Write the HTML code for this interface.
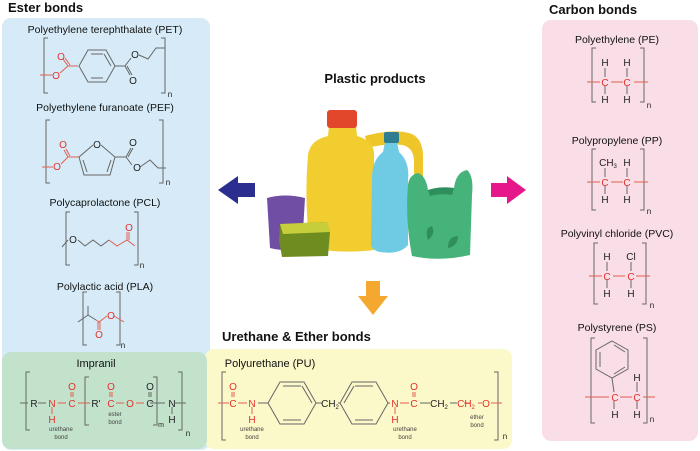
<!DOCTYPE html>
<html><head><meta charset="utf-8"><style>
html,body{margin:0;padding:0;background:#fff;}
svg{display:block;font-family:"Liberation Sans",Arial,sans-serif;}
.l{font-size:10.5px;fill:#111;text-anchor:middle}
.t{font-size:13px;font-weight:bold;fill:#111}
.b{stroke:#666;stroke-width:1;fill:none}
.r{stroke:#e0604f;stroke-width:1;fill:none}
.at{font-size:10px;text-anchor:middle;fill:#222}
.ar{font-size:10px;text-anchor:middle;fill:#e3302b}
.s{font-size:6px;text-anchor:middle;fill:#444}
.br{stroke:#666;stroke-width:1;fill:none}
</style></head><body>
<svg width="700" height="451" viewBox="0 0 700 451">
<!-- boxes -->
<rect x="2" y="18" width="208" height="432" rx="9" fill="#d6ebf7"/>
<rect x="205" y="349" width="307" height="100" rx="9" fill="#fbf8c9"/>
<rect x="2" y="352" width="205" height="97" rx="9" fill="#c3e2cc"/>
<rect x="542" y="20" width="156" height="421" rx="9" fill="#f9dde7"/>
<text class="t" x="8" y="12">Ester bonds</text>
<text class="t" x="549" y="14">Carbon bonds</text>
<text class="t" x="222" y="341">Urethane &amp; Ether bonds</text>
<text class="t" x="375" y="83" text-anchor="middle">Plastic products</text>

<!-- arrows -->
<polygon points="218,190 238,176 238,183 255,183 255,197 238,197 238,204" fill="#2b2e8f"/>
<polygon points="526,190 507,176 507,183 491,183 491,197 507,197 507,204" fill="#e5178a"/>
<polygon points="373,315 358,296 366,296 366,281 380,281 380,296 388,296" fill="#f5a830"/>

<!-- illustration -->
<!-- jug handle -->
<path d="M365,136 Q395,128 412,134 Q424,140 423,160 L423,198 L414,198 L414,160 Q413,147 402,145 Q385,143 368,148Z" fill="#efc62a"/>
<!-- jug body -->
<path d="M329,126 L356,126 L357,136 Q372,140 374,152 L374,250 Q340,254 310,248 Q304,200 308,155 Q310,140 328,136Z" fill="#f2cd30"/>
<rect x="327" y="110" width="30" height="18" rx="3" fill="#e2472c"/>
<!-- bottle -->
<path d="M385,142 L397,142 L399,152 Q410,162 408,180 L408,245 Q400,255 380,252 Q370,250 371,242 L372,178 Q372,160 383,152Z" fill="#6fcbe3"/>
<rect x="384" y="132" width="15" height="11" rx="2" fill="#2f7d90"/>
<!-- bag -->
<path d="M408,185 Q409,175 418,173 Q426,176 428,190 Q440,186 454,188 Q456,172 467,170 Q474,176 472,195 L470,255 Q440,262 412,256 Q405,220 408,185Z" fill="#46b37a"/>
<path d="M428,190 Q440,186 454,188 L452,195 Q440,193 430,196Z" fill="#2f8f5c"/>
<path d="M428,240 Q424,228 432,226 Q436,234 428,240Z M448,248 Q448,236 458,236 Q458,246 448,248Z" fill="#2f8f5c"/>
<!-- cup -->
<path d="M267,198 Q285,193 305,198 L302,248 Q285,252 270,248Z" fill="#6f4ea3"/>
<!-- box -->
<path d="M280,224 L327,222 L330,232 L328,256 L282,257 L279,240Z" fill="#6f8c20"/>
<path d="M280,224 L327,222 L330,232 L283,234Z" fill="#c6cf3b"/>

<!-- PET -->
<text class="l" x="105" y="33">Polyethylene terephthalate (PET)</text>
<path class="br" d="M48,38 H44 V93 H48 M161,38 H165 V93 H161"/>
<text class="at" x="170" y="97" style="font-size:8px">n</text>
<path class="r" d="M40,75 H52 M60,73 L68,66 H78 M68,66 L63,59 M70,65 L65,58"/>
<text class="ar" x="56" y="79">O</text><text class="ar" x="61" y="60">O</text>
<polygon class="b" points="79,66 88,50 106,50 115,66 106,82 88,82"/>
<path class="b" d="M91,54 H103 M91,78 H103 M111,66 L104,54" />
<path class="b" d="M115,66 H125 L130,75 M127,66 L132,75 M125,66 L131,58 M139,55 L148,59 L156,48 H165"/>
<text class="at" x="133" y="84">O</text><text class="at" x="135" y="58">O</text>

<!-- PEF -->
<text class="l" x="105" y="111">Polyethylene furanoate (PEF)</text>
<path class="br" d="M50,120 H46 V183 H50 M159,120 H163 V183 H159"/>
<text class="at" x="168" y="185" style="font-size:8px">n</text>
<path class="r" d="M42,167 H53 M61,164 L68,157 H79 M68,157 L64,150 M70,156 L66,149"/>
<text class="ar" x="57" y="170">O</text><text class="ar" x="63" y="148">O</text>
<path class="b" d="M79,157 L93,145 M101,145 L115,157 L110,175 H84 L79,157 M83,160 L87,172 M111,160 L107,172"/>
<text class="at" x="97" y="148">O</text>
<path class="b" d="M115,157 H126 L131,148 M128,157 L133,148 M126,157 L132,165 M140,167 L150,160 L158,168 H166"/>
<text class="at" x="133" y="146">O</text><text class="at" x="137" y="171">O</text>

<!-- PCL -->
<text class="l" x="105" y="206">Polycaprolactone (PCL)</text>
<path class="br" d="M70,212 H66 V265 H70 M134,212 H138 V265 H134"/>
<text class="at" x="142" y="268" style="font-size:8px">n</text>
<path class="b" d="M62,247 L68,240 M78,240 L85,246 L93,240 L101,246 L109,240"/>
<text class="at" x="73" y="243">O</text>
<path class="r" d="M109,240 L117,246 L127,240 L135,246 M127,240 V232 M129,240 V232"/>
<text class="ar" x="129" y="231">O</text>

<!-- PLA -->
<text class="l" x="105" y="290">Polylactic acid (PLA)</text>
<path class="br" d="M87,292 H83 V345 H87 M116,292 H120 V345 H116"/>
<text class="at" x="123" y="348" style="font-size:8px">n</text>
<path class="b" d="M78,322 L88,315 V306 M88,315 L96,320"/>
<path class="r" d="M96,320 L99,322 L107,316 M98,322 V330 M100,322 V330 M114,316 L124,322"/>
<text class="ar" x="111" y="319">O</text><text class="ar" x="99" y="338">O</text>

<!-- Impranil -->
<text class="l" x="96" y="367" style="font-size:11px">Impranil</text>
<path class="br" d="M30,372 H26 V430 H30 M178,372 H182 V430 H178 M89,377 H85 V425 H89 M153,377 H157 V425 H153"/>
<path class="b" d="M20,403 H28 M38,403 H46 M175,403 H186 M150,403 H165"/>
<path class="r" d="M58,403 H66 M78,403 H90 M116,403 H124 M136,403 H144 M52,407 V414 M71,392 V397 M73,392 V397 M110,392 V397 M112,392 V397"/>
<path class="b" d="M149,392 V397 M151,392 V397 M172,407 V414"/>
<text class="at" x="34" y="407">R</text>
<text class="ar" x="52" y="407">N</text><text class="ar" x="52" y="423">H</text>
<text class="ar" x="72" y="407">C</text><text class="ar" x="72" y="390">O</text>
<text class="at" x="96" y="407">R'</text>
<text class="ar" x="111" y="407">C</text><text class="ar" x="111" y="390">O</text>
<text class="ar" x="130" y="407">O</text>
<text class="at" x="150" y="407">C</text><text class="at" x="150" y="390">O</text>
<text class="at" x="161" y="427" style="font-size:7px">m</text>
<text class="at" x="172" y="407">N</text><text class="at" x="172" y="423">H</text>
<text class="at" x="188" y="436" style="font-size:8px">n</text>
<text class="s" x="61" y="431">urethane</text><text class="s" x="61" y="439">bond</text>
<text class="s" x="115" y="416">ester</text><text class="s" x="115" y="424">bond</text>

<!-- PU -->
<text class="l" x="270" y="367" style="font-size:11px">Polyurethane (PU)</text>
<path class="br" d="M226,372 H222 V440 H226 M494,372 H498 V440 H494"/>
<text class="at" x="505" y="439" style="font-size:8px">n</text>
<path class="r" d="M218,403 H229 M238,403 H247 M232,392 V397 M234,392 V397 M252,407 V414 M400,403 H409 M413,392 V397 M415,392 V397 M395,407 V414 M478,403 H482 M491,403 H502"/>
<path class="r" d="M464,403 L470,403"/>
<text class="ar" x="233" y="407">C</text><text class="ar" x="233" y="390">O</text>
<text class="ar" x="252" y="407">N</text><text class="ar" x="252" y="423">H</text>
<path class="b" d="M258,403 H268"/>
<polygon class="b" points="268,403 280,382 304,382 316,403 304,424 280,424"/>
<path class="b" d="M283,386 H301 M283,420 H301 M312,403 L302,386"/>
<path class="b" d="M316,403 H322 M338,403 H340"/>
<text class="at" x="330" y="407">CH<tspan dy="2" style="font-size:6px">2</tspan></text>
<polygon class="b" points="340,403 352,382 376,382 388,403 376,424 352,424"/>
<path class="b" d="M355,386 H373 M355,420 H373 M344,403 L354,386"/>
<path class="b" d="M388,403 H390 M420,403 H430 M450,403 H457"/>
<text class="ar" x="395" y="407">N</text><text class="ar" x="395" y="423">H</text>
<text class="ar" x="414" y="407">C</text><text class="ar" x="414" y="390">O</text>
<text class="at" x="439" y="407">CH<tspan dy="2" style="font-size:6px">2</tspan></text>
<text class="ar" x="466" y="407">CH<tspan dy="2" style="font-size:6px">2</tspan></text>
<text class="ar" x="486" y="407">O</text>
<text class="s" x="252" y="431">urethane</text><text class="s" x="252" y="439">bond</text>
<text class="s" x="405" y="431">urethane</text><text class="s" x="405" y="439">bond</text>
<text class="s" x="477" y="419">ether</text><text class="s" x="477" y="427">bond</text>

<!-- PE -->
<text class="l" x="617" y="43">Polyethylene (PE)</text>
<path class="br" d="M596,48 H592 V102 H596 M640,48 H644 V102 H640"/>
<text class="at" x="649" y="108" style="font-size:8px">n</text>
<path class="r" d="M587,82 H600 M611,82 H623 M634,82 H648"/>
<path class="b" d="M605,68 V77 M627,68 V77 M605,86 V94 M627,86 V94"/>
<text class="ar" x="605" y="86">C</text><text class="ar" x="627" y="86">C</text>
<text class="at" x="605" y="66">H</text><text class="at" x="627" y="66">H</text>
<text class="at" x="605" y="103">H</text><text class="at" x="627" y="103">H</text>

<!-- PP -->
<text class="l" x="617" y="144">Polypropylene (PP)</text>
<path class="br" d="M596,149 H592 V210 H596 M640,149 H644 V210 H640"/>
<text class="at" x="649" y="214" style="font-size:8px">n</text>
<path class="r" d="M587,182 H600 M611,182 H623 M634,182 H648"/>
<path class="b" d="M605,168 V177 M627,168 V177 M605,186 V194 M627,186 V194"/>
<text class="ar" x="605" y="186">C</text><text class="ar" x="627" y="186">C</text>
<text class="at" x="608" y="166">CH<tspan dy="2" style="font-size:6px">3</tspan></text><text class="at" x="627" y="166">H</text>
<text class="at" x="605" y="203">H</text><text class="at" x="627" y="203">H</text>

<!-- PVC -->
<text class="l" x="617" y="237">Polyvinyl chloride (PVC)</text>
<path class="br" d="M598,243 H594 V304 H598 M642,243 H646 V304 H642"/>
<text class="at" x="652" y="308" style="font-size:8px">n</text>
<path class="r" d="M589,276 H602 M613,276 H625 M636,276 H650"/>
<path class="b" d="M607,262 V271 M631,262 V271 M607,280 V288 M631,280 V288"/>
<text class="ar" x="607" y="280">C</text><text class="ar" x="631" y="280">C</text>
<text class="at" x="607" y="260">H</text><text class="at" x="631" y="260">Cl</text>
<text class="at" x="607" y="297">H</text><text class="at" x="631" y="297">H</text>

<!-- PS -->
<text class="l" x="617" y="331">Polystyrene (PS)</text>
<path class="br" d="M595,338 H591 V423 H595 M643,338 H647 V423 H643"/>
<text class="at" x="652" y="422" style="font-size:8px">n</text>
<polygon class="b" points="612,341 628,350 628,369 612,378 596,369 596,350"/>
<path class="b" d="M600,352 V367 M614,345 L625,352 M614,374 L625,367"/>
<path class="b" d="M612,378 L614,392 M637,382 V392 M614,401 V409 M637,401 V409"/>
<path class="r" d="M585,397 H609 M620,397 H632 M643,397 H655"/>
<text class="ar" x="615" y="401">C</text><text class="ar" x="637" y="401">C</text>
<text class="at" x="637" y="381">H</text>
<text class="at" x="615" y="418">H</text><text class="at" x="637" y="418">H</text>
</svg>
</body></html>
